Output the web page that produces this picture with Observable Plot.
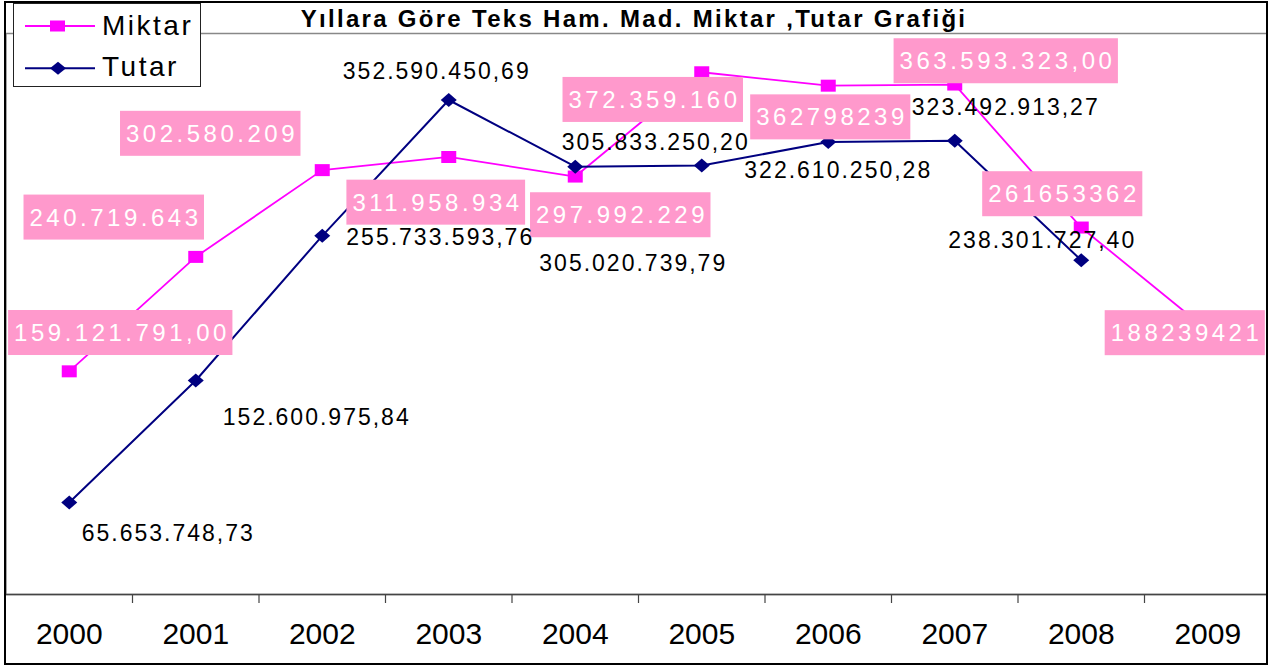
<!DOCTYPE html>
<html>
<head>
<meta charset="utf-8">
<script src="https://cdn.jsdelivr.net/npm/d3@7"></script>
<script src="https://cdn.jsdelivr.net/npm/@observablehq/plot@0.6"></script>
<style>
  body { margin: 0; background: #fff; }
  #wrap { position: relative; width: 1268px; height: 666px; overflow: hidden; font-family: "Liberation Sans", Arial, sans-serif; background: #fff; }
  #wrap > svg.plot, #wrap > svg:first-child { position: absolute; left: 0; top: 0; }
  #border { position: absolute; left: 4px; top: 1px; width: 1264px; height: 664px; border: 2px solid #000; box-sizing: border-box; pointer-events: none; }
  #title { position: absolute; left: 0; top: 7px; width: 1268px; text-align: center; font-weight: bold; font-size: 24px; line-height: 24px; letter-spacing: 2.3px; color: #000; white-space: nowrap; }
  #legend { position: absolute; left: 13px; top: 3px; }
  g[aria-description="miktar-label"] text { letter-spacing: 3.5px; }
  g[aria-description="tutar-label"] text { letter-spacing: 2px; }
</style>
</head>
<body>
<div id="wrap">
  <div id="title">Yıllara Göre Teks Ham. Mad. Miktar ,Tutar Grafiği</div>
</div>
<script>
// ---- data ----
const years = [2000, 2001, 2002, 2003, 2004, 2005, 2006, 2007, 2008, 2009];

const miktarValues = [159121791, 240719643, 302580209, 311958934, 297992229, 372359160, 362798239, 363593323, 261653362, 188239421];
const miktarLabels = ["159.121.791,00", "240.719.643", "302.580.209", "311.958.934", "297.992.229", "372.359.160", "362798239", "363.593.323,00", "261653362", "188239421"];

const tutarValues = [65653748.73, 152600975.84, 255733593.76, 352590450.69, 305020739.79, 305833250.20, 322610250.28, 323492913.27, 238301727.40];
const tutarLabels = ["65.653.748,73", "152.600.975,84", "255.733.593,76", "352.590.450,69", "305.020.739,79", "305.833.250,20", "322.610.250,28", "323.492.913,27", "238.301.727,40"];

const seriesNames = ["Miktar", "Tutar"];

// label placement (offsets from each point, in px), like the manually placed Excel labels
const miktarLabelOffsets = [[51, -38], [-82, -39], [-112, -36], [-13, 46], [45, 39], [-49, 28], [2, 32], [51, -23], [-19, -33], [-23, 3]];
const tutarLabelOffsets = [[98, 31], [120, 37], [117, 2], [-13, -28], [57, 97], [-47, -23], [9, 29], [50, -33], [-40, -20]];

// ---- tables ----
const miktar = years.map((year, i) => ({year, value: miktarValues[i], label: miktarLabels[i]}));
const tutar = tutarValues.map((value, i) => ({year: years[i], value, label: tutarLabels[i]}));
const boundaries = years.slice(1).map(y => y - 0.5);

const MAG = "#FF00FF", NAVY = "#000080", PINK = "#FF99CC";
const MIK_LS = 3.5, TUT_LS = 2;

const rectSymbol = {draw(ctx) { ctx.rect(-7.5, -6, 15, 12); }};
const diamondSymbol = {draw(ctx) { ctx.moveTo(0, -7); ctx.lineTo(8, 0); ctx.lineTo(0, 7); ctx.lineTo(-8, 0); ctx.closePath(); }};

const chart = Plot.plot({
  width: 1268,
  height: 666,
  marginLeft: 5.5,
  marginRight: 0,
  marginTop: 33,
  marginBottom: 72,
  x: {type: "linear", domain: [1999.5, 2009.5], range: [5.5, 1270.5], label: null},
  y: {domain: [0, 400e6], range: [594, 33], axis: null, label: null},
  style: {fontFamily: "'Liberation Sans', Arial, sans-serif", background: "white", color: "#000"},
  marks: [
    Plot.frame({stroke: "#888", strokeWidth: 1.5}),
    Plot.ruleY([0], {stroke: "#444", strokeWidth: 1.5}),
    Plot.axisX(boundaries, {tickSize: 9, tickFormat: () => "", stroke: "#444", strokeWidth: 1.2, label: null}),
    Plot.axisX(years, {tickSize: 0, tickPadding: 28, tickFormat: "d", fontSize: 30, fill: "#000", label: null}),
    Plot.line(miktar, {x: "year", y: "value", stroke: MAG, strokeWidth: 1.8}),
    Plot.dot(miktar, {x: "year", y: "value", symbol: rectSymbol, fill: MAG, stroke: "none"}),
    Plot.line(tutar, {x: "year", y: "value", stroke: NAVY, strokeWidth: 2}),
    Plot.dot(tutar, {x: "year", y: "value", symbol: diamondSymbol, fill: NAVY, stroke: "none"}),
    ...miktar.map((d, i) => Plot.text([d], {
      x: "year", y: "value", text: "label",
      dx: miktarLabelOffsets[i][0] + MIK_LS / 2, dy: miktarLabelOffsets[i][1],
      fill: "white", fontSize: 24, ariaDescription: "miktar-label"
    })),
    ...tutar.map((d, i) => Plot.text([d], {
      x: "year", y: "value", text: "label",
      dx: tutarLabelOffsets[i][0] + TUT_LS / 2, dy: tutarLabelOffsets[i][1],
      fill: "black", fontSize: 23, ariaDescription: "tutar-label"
    }))
  ]
});

const wrap = document.getElementById("wrap");
wrap.insertBefore(chart, wrap.firstChild);

// pink backgrounds behind the Miktar labels, sized to each rendered text
const svg = d3.select(chart);
svg.selectAll('g[aria-description="miktar-label"] text').each(function() {
  const bb = this.getBBox();
  const w = bb.width - MIK_LS + 12;
  const cy = bb.y + bb.height / 2;
  const r = document.createElementNS("http://www.w3.org/2000/svg", "rect");
  r.setAttribute("x", bb.x - 6);
  r.setAttribute("y", cy - 22.5);
  r.setAttribute("width", w);
  r.setAttribute("height", 45);
  r.setAttribute("fill", PINK);
  const t = this.getAttribute("transform");
  if (t) r.setAttribute("transform", t);
  this.parentNode.insertBefore(r, this);
});

// legend box
const legend = d3.select(wrap).append("svg")
  .attr("id", "legend").attr("width", 188).attr("height", 84);
legend.append("rect").attr("x", 0.5).attr("y", 0.5).attr("width", 187).attr("height", 83)
  .attr("fill", "white").attr("stroke", "#222").attr("stroke-width", 1);
const entries = [
  {name: seriesNames[0], color: MAG, sym: "rect", y: 23, base: 32},
  {name: seriesNames[1], color: NAVY, sym: "diamond", y: 65.3, base: 73}
];
entries.forEach(e => {
  legend.append("line").attr("x1", 12).attr("x2", 82).attr("y1", e.y).attr("y2", e.y)
    .attr("stroke", e.color).attr("stroke-width", e.sym === "rect" ? 1.8 : 2);
  if (e.sym === "rect") {
    legend.append("rect").attr("x", 37).attr("y", e.y - 5.5).attr("width", 15).attr("height", 11).attr("fill", e.color);
  } else {
    legend.append("path").attr("d", `M45,${e.y - 6.5}L53,${e.y}L45,${e.y + 6.5}L37,${e.y}Z`).attr("fill", e.color);
  }
  legend.append("text").attr("x", 89).attr("y", e.base).text(e.name)
    .attr("font-family", "'Liberation Sans', Arial, sans-serif").attr("font-size", 28)
    .attr("letter-spacing", "2.5px").attr("fill", "#000");
});

// outer chart border
d3.select(wrap).append("div").attr("id", "border");
</script>
</body>
</html>
